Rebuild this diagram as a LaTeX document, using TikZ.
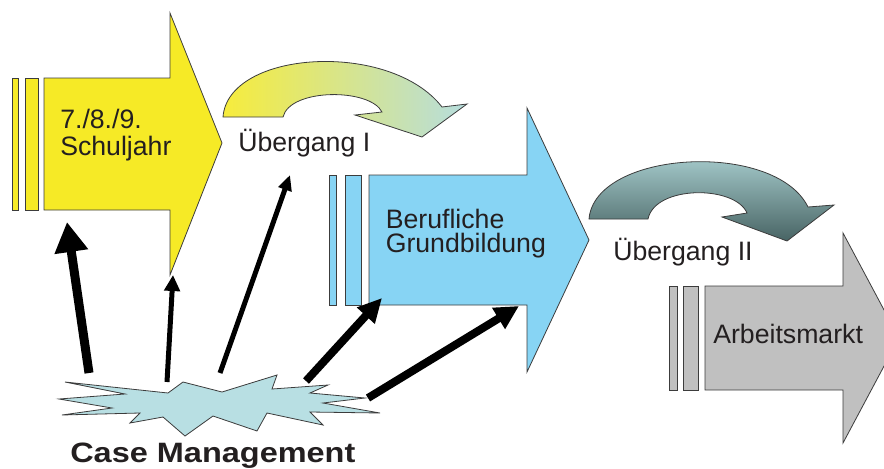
\documentclass[tikz,border=0pt]{standalone}
\usepackage{fontspec}
\setmainfont{Liberation Sans}
\newfontfamily\breitfett[FakeStretch=1.16]{Liberation Sans Bold}
\usepackage{tikz}
\usetikzlibrary{arrows.meta}

\definecolor{ink}{RGB}{35,31,32}
\definecolor{edge}{RGB}{60,60,60}
\definecolor{schulgelb}{RGB}{246,234,38}
\definecolor{berufblau}{RGB}{135,212,244}
\definecolor{marktgrau}{RGB}{192,192,192}
\definecolor{burstblau}{RGB}{184,223,227}
\definecolor{tealhell}{RGB}{182,221,222}
\definecolor{tealdunkel}{RGB}{72,100,100}

\begin{document}
\begin{tikzpicture}[x=0.75pt,y=0.75pt,yscale=-1,xscale=1,
  block/.style={draw=edge,line width=0.6pt},
  lbl/.style={inner sep=0pt,text=ink,align=left,font=\fontsize{20}{20.25}\selectfont},
  cmarrow/.style n args={3}{draw=black,line width=#1,-{Triangle[length=#2,width=#3]}}]
\useasboundingbox (0,0) rectangle (884,468);
\clip (0,0) rectangle (884,468);

%Shape: Right Arrow (Schuljahr)
\draw [block,fill=schulgelb] (12,78) rectangle (18,210) ;
\draw [block,fill=schulgelb] (25,78) rectangle (38,210) ;
\draw [block,fill=schulgelb] (44,78) -- (170,78) -- (170,13) -- (222,143) -- (170,275) -- (170,210) -- (44,210) -- cycle ;
%Shape: Right Arrow (Grundbildung)
\draw [block,fill=berufblau] (329,175) rectangle (336,305) ;
\draw [block,fill=berufblau] (345,175) rectangle (361,305) ;
\draw [block,fill=berufblau] (369,175) -- (527,175) -- (527,108) -- (589,240) -- (527,372) -- (527,305) -- (369,305) -- cycle ;
%Shape: Right Arrow (Arbeitsmarkt)
\draw [block,fill=marktgrau] (669,286) rectangle (677,390) ;
\draw [block,fill=marktgrau] (683,286) rectangle (698,390) ;
\draw [block,fill=marktgrau] (705,286) -- (843,286) -- (843,233) -- (899,338) -- (843,443) -- (843,390) -- (705,390) -- cycle ;

%Curve Arrow (Uebergang I)
\draw [block,left color=schulgelb!90!white,right color=tealhell] (223,117) .. controls (228,50) and (390,40) .. (442,107) -- (467,104) -- (422,137) -- (355,115) -- (382,112) .. controls (370,88) and (290,88) .. (283,117) -- cycle ;
%Curve Arrow (Uebergang II)
\draw [block,top color=tealhell,bottom color=tealdunkel] (589,219) .. controls (595,150) and (775,140) .. (808,207) -- (834,205) -- (787,241) -- (722,217) -- (747,213) .. controls (735,185) and (655,185) .. (648,219) -- cycle ;

%Shape: Explosion (Case Management)
\draw [block,fill=burstblau] (65,382) -- (125,394) -- (59,399) -- (112,408) -- (62,415) -- (140,413) -- (130,423) -- (163,417) -- (185,436) -- (213,416) -- (257,431) -- (267,413) -- (323,425) -- (310,412) -- (380,413) -- (323,403) -- (365,398) -- (310,393) -- (328,385) -- (272,389) -- (277,375) -- (222,392) -- (183,382) -- (168,393) -- cycle ;

% Connector ends
\coordinate (cm1) at (89,373) ;
\coordinate (cm2) at (167,382) ;
\coordinate (cm3) at (220,373) ;
\coordinate (cm4) at (306,381) ;
\coordinate (cm5) at (368,398) ;
\coordinate (schulfuss) at (67,222) ;
\coordinate (schulspitze) at (173,275) ;
\coordinate (uebIfuss) at (290,175) ;
\coordinate (streifen) at (382,298) ;
\coordinate (berufkante) at (519,306) ;

%Straight Lines
\draw [cmarrow={6.75pt}{22.5pt}{24pt}] (cm1) -- (schulfuss) ;
\draw [cmarrow={3.75pt}{12pt}{11.5pt}] (cm2) -- (schulspitze) ;
\draw [cmarrow={3.75pt}{11.5pt}{10pt}] (cm3) -- (uebIfuss) ;
\draw [cmarrow={6pt}{18pt}{17pt}] (cm4) -- (streifen) ;
\draw [cmarrow={6pt}{18pt}{17.5pt}] (cm5) -- (berufkante) ;

% Text Node
\draw (60,108.5) node (schul) [lbl,anchor=north west] {7./8./9.\\Schuljahr};
% Text Node
\draw (385.5,208.9) node (beruf) [lbl,anchor=north west,font=\fontsize{20}{18}\selectfont] {Berufliche\\Grundbildung};
% Text Node
\draw (238,151) node (uebI) [lbl,anchor=base west] {Übergang I};
% Text Node
\draw (613,260) node (uebII) [lbl,anchor=base west] {Übergang II};
% Text Node
\draw (713,343) node (markt) [lbl,anchor=base west] {Arbeitsmarkt};
% Text Node
\draw (70,462) node (casem) [lbl,anchor=base west,font=\fontsize{21}{24}\breitfett] {Case Management};

\end{tikzpicture}
\end{document}
